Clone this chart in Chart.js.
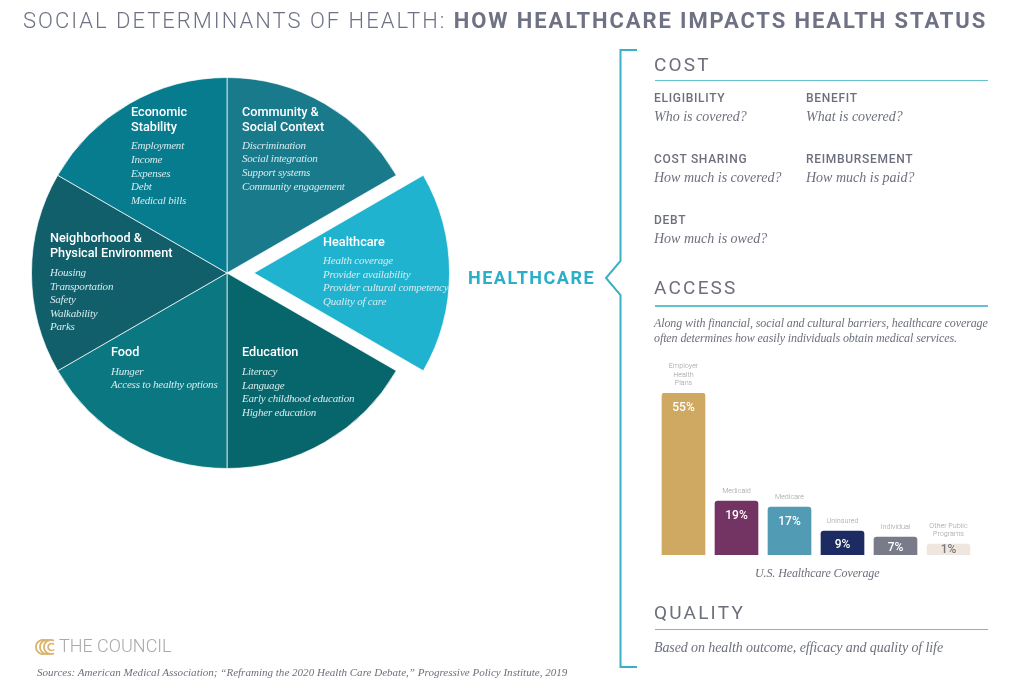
<!DOCTYPE html>
<html>
<head>
<meta charset="utf-8">
<title>Social Determinants of Health</title>
<script src="https://cdn.jsdelivr.net/npm/chart.js@4/dist/chart.umd.min.js"></script>
<style>
  html, body { margin: 0; padding: 0; background: #fff; }
  #page { position: relative; width: 1024px; height: 687px; overflow: hidden; }
  canvas { position: absolute; }
  svg { position: absolute; left: 0; top: 0; }
  .t { position: absolute; white-space: nowrap; transform: translateY(-50%); line-height: 1; }
  .head { font-family: Roboto, sans-serif; font-weight: 500; font-size: 12.7px; color: #fff; }
  .item { font-family: "Liberation Serif", serif; font-style: italic; font-size: 11px; letter-spacing: -.2px; color: #d8ebef; transform: translateY(calc(-50% + .8px)); }
  .section { font-family: Roboto, sans-serif; font-size: 19px; letter-spacing: 2.2px; color: #6d707c; }
  .sub { font-family: Roboto, sans-serif; font-weight: 500; font-size: 12px; letter-spacing: .7px; color: #6d707c; }
  .q { font-family: "Liberation Serif", serif; font-style: italic; font-size: 14px; color: #6d707c; transform: translateY(calc(-50% + .8px)); }
  .note { font-size: 12px; letter-spacing: -.1px; }
  .source { font-size: 11.05px; }
  .quality { letter-spacing: -.1px; }
  .rule { position: absolute; left: 655px; width: 333px; height: 1.5px; background: #62c2d2; }
</style>
</head>
<body>
<div id="page">
  <canvas id="pie" width="460" height="460" style="left:-3px;top:42.5px;width:460px;height:460px"></canvas>
  <canvas id="bars" width="318" height="200" style="left:657px;top:355px;width:318px;height:200px"></canvas>
  <svg width="1024" height="687">
    <polyline points="637,50 620.5,50 620.5,261 606,278 620.5,295 620.5,667 637,667" fill="none" stroke="#3aafc6" stroke-width="2"/>
    <g fill="none" stroke="#d9b36c" stroke-width="1.7">
      <path d="M46 640.7 A7 7 0 1 0 46 653.3"/>
      <path d="M50 640.7 A7 7 0 1 0 50 653.3"/>
      <path d="M54 640.7 A7 7 0 1 0 54 653.3"/>
      <path d="M54 644.5 A3.5 3.5 0 1 0 54 649.5"/>
    </g>
  </svg>
  <div class="rule" style="top:79.5px"></div>
  <div class="rule" style="top:305px"></div>
  <div class="rule" style="top:628.5px"></div>
  <div id="labels"></div>
</div>
<script>
const sliceNames = ['Community & Social Context', 'Healthcare', 'Education', 'Food', 'Neighborhood & Physical Environment', 'Economic Stability']
const sliceValues = [1, 1, 1, 1, 1, 1]
const sliceColors = ['#197a8c', '#20b3d0', '#07666b', '#0a7781', '#115f6b', '#087c8f']
const sliceShifts = [0, 27, 0, 0, 0, 0]

const coverageNames = [['Employer', 'Health', 'Plans'], ['Medicaid'], ['Medicare'], ['Uninsured'], ['Individual'], ['Other Public', 'Programs']]
const coverageValues = [55, 19, 17, 9, 7, 1]
const coverageColors = ['#cfa962', '#743463', '#519cb4', '#1c2c63', '#797b8a', '#efe6e0']
const coverageLabelColors = ['#fff', '#fff', '#fff', '#fff', '#fff', '#77787f']

// [class, x, y, text]
const texts = [
  ['head', 131, 112, 'Economic'], ['head', 131, 127, 'Stability'],
  ['item', 131, 145, 'Employment'], ['item', 131, 159, 'Income'], ['item', 131, 173, 'Expenses'],
  ['item', 131, 186, 'Debt'], ['item', 131, 200, 'Medical bills'],
  ['head', 242, 112, 'Community &'], ['head', 242, 127, 'Social Context'],
  ['item', 242, 145, 'Discrimination'], ['item', 242, 158, 'Social integration'],
  ['item', 242, 172, 'Support systems'], ['item', 242, 186, 'Community engagement'],
  ['head', 323, 242, 'Healthcare'],
  ['item', 323, 260, 'Health coverage'], ['item', 323, 274, 'Provider availability'],
  ['item', 323, 287, 'Provider cultural competency'], ['item', 323, 301, 'Quality of care'],
  ['head', 50, 238, 'Neighborhood &'], ['head', 50, 253, 'Physical Environment'],
  ['item', 50, 272, 'Housing'], ['item', 50, 285.5, 'Transportation'], ['item', 50, 299, 'Safety'],
  ['item', 50, 313, 'Walkability'], ['item', 50, 326, 'Parks'],
  ['head', 111, 352, 'Food'],
  ['item', 111, 371, 'Hunger'], ['item', 111, 384, 'Access to healthy options'],
  ['head', 242, 352, 'Education'],
  ['item', 242, 371, 'Literacy'], ['item', 242, 384.5, 'Language'],
  ['item', 242, 398, 'Early childhood education'], ['item', 242, 412, 'Higher education'],
  ['section', 654, 63.5, 'COST'], ['section', 654, 287, 'ACCESS'], ['section', 654, 612, 'QUALITY'],
  ['sub', 654, 98, 'ELIGIBILITY'], ['q', 654, 116, 'Who is covered?'],
  ['sub', 806, 98, 'BENEFIT'], ['q', 806, 116, 'What is covered?'],
  ['sub', 654, 159, 'COST SHARING'], ['q', 654, 177, 'How much is covered?'],
  ['sub', 806, 159, 'REIMBURSEMENT'], ['q', 806, 177, 'How much is paid?'],
  ['sub', 654, 220, 'DEBT'], ['q', 654, 238, 'How much is owed?'],
  ['q note', 654, 322, 'Along with financial, social and cultural barriers, healthcare coverage'],
  ['q note', 654, 337, 'often determines how easily individuals obtain medical services.'],
  ['q note', 755, 572, 'U.S. Healthcare Coverage'],
  ['q quality', 654, 647, 'Based on health outcome, efficacy and quality of life'],
  ['q source', 37, 672, 'Sources: American Medical Association; “Reframing the 2020 Health Care Debate,” Progressive Policy Institute, 2019']
]

const labelBox = document.getElementById('labels')

function addText (cls, x, y, html, style) {
  const el = document.createElement('div')
  el.className = 't ' + cls
  el.style.left = x + 'px'
  el.style.top = y + 'px'
  el.innerHTML = html
  if (style) el.style.cssText += style
  labelBox.appendChild(el)
}

texts.forEach(([cls, x, y, text]) => addText(cls, x, y, text))

addText('title', 23, 21, 'SOCIAL DETERMINANTS OF HEALTH: <b style="font-weight:700;letter-spacing:1.9px">HOW HEALTHCARE IMPACTS HEALTH STATUS</b>',
  'font-family:Roboto,sans-serif;font-weight:300;font-size:22px;letter-spacing:2px;color:#6f7284')
addText('callout', 468, 278, 'HEALTHCARE', 'font-family:Roboto,sans-serif;font-weight:700;font-size:18px;letter-spacing:1.5px;color:#2baec8')
addText('logo', 59, 646, 'THE COUNCIL', 'font-family:Roboto,sans-serif;font-weight:300;font-size:18px;color:#a9a9a9')

// the option "offset" also grows the slice, so the pulled out slice is moved by hand
const explodeSlice = {
  id: 'explodeSlice',
  afterDatasetUpdate (chart) {
    chart.getDatasetMeta(0).data.forEach((arc, i) => {
      const mid = (arc.startAngle + arc.endAngle) / 2
      arc.x += Math.cos(mid) * sliceShifts[i]
      arc.y += Math.sin(mid) * sliceShifts[i]
    })
  }
}

// bar captions and percentages are not part of the axes, so they follow the bar elements
const barLabels = {
  id: 'barLabels',
  afterDatasetsDraw (chart) {
    const ctx = chart.ctx
    ctx.save()
    ctx.textAlign = 'center'
    ctx.textBaseline = 'middle'
    chart.getDatasetMeta(0).data.forEach((bar, i) => {
      const h = bar.base - bar.y
      ctx.font = '500 12px Roboto'
      ctx.fillStyle = coverageLabelColors[i]
      ctx.fillText(coverageValues[i] + '%', bar.x, bar.y + Math.min(14.5, h / 2))
      ctx.font = '300 7.2px Roboto'
      ctx.fillStyle = '#9a9a9a'
      const lines = coverageNames[i]
      lines.forEach((line, j) => {
        ctx.fillText(line, bar.x, bar.y - 9.5 - (lines.length - 1 - j) * 8.7)
      })
    })
    ctx.restore()
  }
}

new Chart(document.getElementById('pie'), {
  type: 'pie',
  data: {
    labels: sliceNames,
    datasets: [{
      data: sliceValues,
      backgroundColor: sliceColors,
      borderColor: 'rgba(255, 255, 255, 0.7)',
      borderWidth: 1
    }]
  },
  options: {
    responsive: false,
    animation: false,
    radius: 195.5,
    plugins: { legend: { display: false }, tooltip: { enabled: false } }
  },
  plugins: [explodeSlice]
})

new Chart(document.getElementById('bars'), {
  type: 'bar',
  data: {
    labels: coverageNames.map(name => name.join(' ')),
    datasets: [{
      data: coverageValues,
      backgroundColor: coverageColors,
      barThickness: 43,
      minBarLength: 11,
      borderRadius: { topLeft: 3, topRight: 3 }
    }]
  },
  options: {
    responsive: false,
    animation: false,
    layout: { padding: { top: 38 } },
    scales: {
      x: { display: false },
      y: { display: false, min: 1, max: 55 }
    },
    plugins: { legend: { display: false }, tooltip: { enabled: false } }
  },
  plugins: [barLabels]
})
</script>
</body>
</html>
